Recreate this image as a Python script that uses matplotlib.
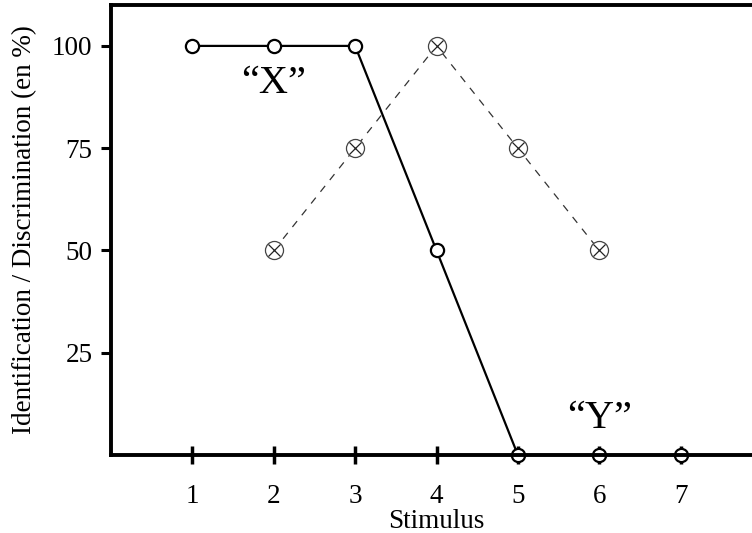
import matplotlib
matplotlib.use("Agg")
import matplotlib.pyplot as plt

# Data
stimulus = [1, 2, 3, 4, 5, 6, 7]
identification = [100, 100, 100, 50, 0, 0, 0]
disc_stimulus = [2, 3, 4, 5, 6]
discrimination = [50, 75, 100, 75, 50]
x_ticks = [1, 2, 3, 4, 5, 6, 7]
y_ticks = [25, 50, 75, 100]
y_tick_labels = ["25", "50", "75", "100"]
label_x = "\u201cX\u201d"
label_y = "\u201cY\u201d"

plt.rcParams['font.family'] = ['Liberation Serif', 'DejaVu Serif']

fig = plt.figure(figsize=(7.52, 5.33), dpi=100)
ax = fig.add_axes([111/752, 78/533, 651/752, 450/533])

ax.set_xlim(0, 8)
ax.set_ylim(0, 110)

# Discrimination (dashed grey, circled-x markers)
ax.plot(disc_stimulus, discrimination, linestyle=(0, (6, 6)), color='#333333',
        lw=0.9, zorder=2)
ax.plot(disc_stimulus, discrimination, linestyle='none', marker='o', ms=13,
        mfc='white', mec='#444444', mew=0.9, zorder=3)
ax.plot(disc_stimulus, discrimination, linestyle='none', marker='x', ms=9,
        mec='#222222', mew=0.9, zorder=3)

# Identification (solid black, open circles)
ax.plot(stimulus, identification, color='black', lw=1.6, zorder=2.2,
        clip_on=False)
ax.plot(stimulus, identification, linestyle='none', marker='o', ms=9.5,
        mfc='white', mec='black', mew=1.6, zorder=2.3, clip_on=False)

ax.text(2.0, 88.4, label_x, fontsize=29, ha='center', va='baseline')
ax.text(6.0, 6.6, label_y, fontsize=29, ha='center', va='baseline')

ax.spines['right'].set_visible(False)
for side in ['left', 'bottom', 'top']:
    ax.spines[side].set_linewidth(2.8)
    ax.spines[side].set_zorder(2.5)

ax.set_xticks(x_ticks)
ax.set_xticklabels([str(v) for v in x_ticks])
ax.set_yticks(y_ticks)
ax.set_yticklabels(y_tick_labels)

ax.tick_params(axis='x', direction='inout', length=13, width=2.5,
               labelsize=19.5, pad=14.5)
ax.tick_params(axis='y', direction='out', length=7.5, width=2.2,
               labelsize=19.5, pad=5.8)

ax.set_xlabel("Stimulus", fontsize=19.5, labelpad=0)
ax.set_ylabel("Identification / Discrimination (en %)", fontsize=19.5,
              labelpad=11)

fig.savefig("out.png", dpi=100)
